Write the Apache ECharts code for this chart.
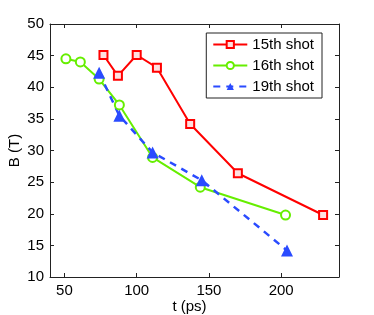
<!DOCTYPE html>
<html><head><meta charset="utf-8">
<script src="https://cdn.jsdelivr.net/npm/echarts@6/dist/echarts.min.js"></script>
<style>html,body{margin:0;padding:0;background:#fff}#c{width:374px;height:315px}</style>
</head><body><div id="c"></div>
<script>
const shot15 = [[77,45.1],[87,41.8],[100,45.1],[114,43.1],[137,34.2],[170,26.4],[229,19.8]];
const shot16 = [[51,44.5],[61,44.0],[74,41.3],[88,37.2],[111,28.9],[144,24.2],[203,19.8]];
const shot19 = [[74,42.3],[88,35.5],[111,29.7],[145,25.3],[204,14.2]];
const xTicks = [50,100,150,200];
const yTicks = [10,15,20,25,30,35,40,45,50];
const names = ['15th shot','16th shot','19th shot'];

const font = 'Liberation Sans, Arial, sans-serif';
const chart = echarts.init(document.getElementById('c'));
const axLine = {show:true, lineStyle:{color:'#222', width:1}};
chart.setOption({
  animation:false,
  grid:{left:50, right:35, top:24, bottom:38, outerBoundsMode:'none', containLabel:false},
  legend:{
    orient:'vertical', right:52, top:33, data:names,
    backgroundColor:'#fff', borderColor:'#222', borderWidth:1,
    padding:[4,8,4,6], itemGap:6, itemWidth:34, itemHeight:9,
    textStyle:{fontFamily:font, fontSize:15, color:'#000'}
  },
  xAxis:[
    {type:'value', min:40, max:240, position:'bottom',
     name:'t (ps)', nameLocation:'middle', nameGap:22, nameMoveOverlap:false,
     nameTextStyle:{fontFamily:font, fontSize:15, color:'#000', verticalAlign:'top', padding:[0,10,0,0]},
     axisLine:axLine, splitLine:{show:false},
     axisTick:{show:true, inside:true, length:4, customValues:xTicks, lineStyle:{color:'#222'}},
     axisLabel:{customValues:xTicks, fontFamily:font, fontSize:15, color:'#000', margin:6}},
    {type:'value', min:40, max:240, position:'top',
     axisLine:axLine, splitLine:{show:false},
     axisTick:{show:true, inside:true, length:4, customValues:xTicks, lineStyle:{color:'#222'}},
     axisLabel:{show:false}}
  ],
  yAxis:[
    {type:'value', min:10, max:50, interval:5, position:'left',
     name:'B (T)', nameLocation:'middle', nameGap:28, nameRotate:90, nameMoveOverlap:false,
     nameTextStyle:{fontFamily:font, fontSize:15, color:'#000'},
     axisLine:axLine, splitLine:{show:false},
     axisTick:{show:true, inside:true, length:4, lineStyle:{color:'#222'}},
     axisLabel:{fontFamily:font, fontSize:15, color:'#000', margin:6}},
    {type:'value', min:10, max:50, interval:5, position:'right',
     axisLine:axLine, splitLine:{show:false},
     axisTick:{show:true, inside:true, length:4, lineStyle:{color:'#222'}},
     axisLabel:{show:false}}
  ],
  series:[
    {name:names[0], type:'line', data:shot15, symbol:'rect', symbolSize:8,
     lineStyle:{color:'#ff0000', width:2},
     itemStyle:{color:'#ffe0e0', borderColor:'#ff0000', borderWidth:2}},
    {name:names[1], type:'line', data:shot16, symbol:'circle', symbolSize:9,
     lineStyle:{color:'#66ee00', width:2},
     itemStyle:{color:'#ffffff', borderColor:'#66ee00', borderWidth:2}},
    {name:names[2], type:'line', data:shot19, symbol:'triangle', symbolSize:12,
     lineStyle:{color:'#2a4bff', width:2.5, type:[7,6]},
     itemStyle:{color:'#2a4bff', borderColor:'#2a4bff', borderWidth:0}}
  ]
});
</script></body></html>
